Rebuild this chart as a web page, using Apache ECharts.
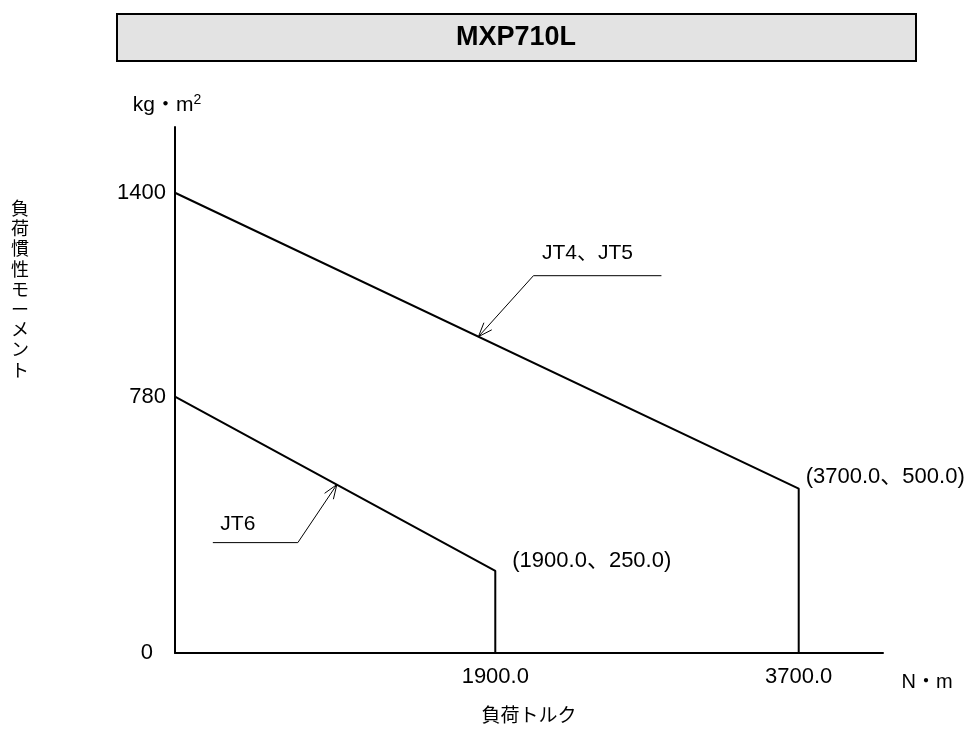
<!DOCTYPE html>
<html>
<head>
<meta charset="utf-8">
<script src="https://cdn.jsdelivr.net/npm/echarts@6/dist/echarts.min.js"></script>
<style>
  html, body { margin: 0; padding: 0; background: #fff; }
  #main { width: 973px; height: 729px; }
</style>
</head>
<body>
<div id="main"></div>
<script>
// MXP710L allowable load inertia vs. load torque
const chartTitle = 'MXP710L';
const seriesNames = ['JT4、JT5', 'JT6'];
const jt45Torque = [0, 3700, 3700];
const jt45Inertia = [1400, 500, 0];
const jt6Torque = [0, 1900, 1900];
const jt6Inertia = [780, 250, 0];
const yTickValues = [0, 780, 1400];
const xTickValues = [1900, 3700];
const xAxisTitle = '負荷トルク';
const yAxisTitle = '負荷慣性モーメント';
const xUnit = 'N・m';
const yUnit = 'kg・m';

const FONT = "'Liberation Sans', Arial, 'Noto Sans CJK JP', sans-serif";
const CJK = "'Noto Sans CJK JP', sans-serif";

function toPoints(xs, ys) {
  return xs.map((x, i) => [x, ys[i]]);
}
function fmtPair(p) {
  return '(' + p[0].toFixed(1) + '、' + p[1].toFixed(1) + ')';
}
// corner point (index 1) carries the value label, placed up and to the right
function buildData(xs, ys, labelPos) {
  return toPoints(xs, ys).map((p, i) => i === 1 ? {
    value: p,
    label: {
      show: true, position: labelPos, align: 'left', verticalAlign: 'middle',
      formatter: () => fmtPair(p),
      color: '#000', fontSize: 22, fontFamily: FONT
    }
  } : { value: p });
}
// y on a polyline at a given x (first segment containing x)
function yOnLine(xs, ys, x) {
  for (let i = 0; i < xs.length - 1; i++) {
    const x0 = xs[i], x1 = xs[i + 1];
    if (x1 !== x0 && x >= Math.min(x0, x1) && x <= Math.max(x0, x1)) {
      return ys[i] + (ys[i + 1] - ys[i]) * (x - x0) / (x1 - x0);
    }
  }
  return ys[0];
}

const chart = echarts.init(document.getElementById('main'), null, { renderer: 'canvas' });

const lineStyle = { color: '#000', width: 2 };
const lineSeries = {
  type: 'line', symbol: 'circle', symbolSize: 0, showSymbol: true, showAllSymbol: true,
  silent: true, itemStyle: { color: '#000' }, lineStyle: lineStyle,
  labelLayout: { hideOverlap: false }
};

chart.setOption({
  animation: false,
  backgroundColor: '#fff',
  grid: { left: 175, right: 90, top: 127, bottom: 76 },
  xAxis: {
    type: 'value', min: 0, max: 4200,
    axisLine: { show: true, onZero: false, lineStyle: { color: '#000', width: 2 } },
    axisTick: { show: false },
    splitLine: { show: false },
    axisLabel: {
      customValues: xTickValues,
      formatter: v => Number(v).toFixed(1),
      color: '#000', fontSize: 22, fontFamily: FONT, margin: 13
    },
    name: xAxisTitle, nameLocation: 'middle', nameGap: 52,
    nameTextStyle: { color: '#000', fontSize: 19, fontFamily: CJK }
  },
  yAxis: {
    type: 'value', min: 0, max: 1600,
    axisLine: { show: true, onZero: false, lineStyle: { color: '#000', width: 2 } },
    axisTick: { show: false },
    splitLine: { show: false },
    axisLabel: {
      customValues: yTickValues,
      formatter: v => v === 0 ? '{z|0}' : String(v),
      color: '#000', fontSize: 22, fontFamily: FONT, margin: 9,
      rich: { z: { fontSize: 22, fontFamily: FONT, color: '#000', padding: [0, 13, 0, 0] } }
    },
    name: '{u|' + yUnit + '}{s|2}', nameLocation: 'end', nameGap: 10,
    nameTextStyle: {
      padding: [0, 16, 0, 0],
      rich: {
        u: { fontSize: 21, fontFamily: FONT, color: '#000', lineHeight: 24 },
        s: { fontSize: 14, fontFamily: FONT, color: '#000', verticalAlign: 'top', lineHeight: 24 }
      }
    }
  },
  series: [
    Object.assign({}, lineSeries, {
      name: seriesNames[0],
      data: buildData(jt45Torque, jt45Inertia, [7, -12])
    }),
    Object.assign({}, lineSeries, {
      name: seriesNames[1],
      data: buildData(jt6Torque, jt6Inertia, [17, -10])
    })
  ]
});

// leader-line callouts naming each curve
const callouts = [
  { text: seriesNames[0], xs: jt45Torque, ys: jt45Inertia, atX: 1800,
    elbow: [55, -61], tail: 128, textAt: [54, -22] },
  { text: seriesNames[1], xs: jt6Torque, ys: jt6Inertia, atX: 960,
    elbow: [-39, 58], tail: -85, textAt: [-60, -18] }
];

const graphics = [
  {
    type: 'rect', shape: { x: 117, y: 14, width: 799, height: 47 },
    style: { fill: '#e3e3e3', stroke: '#000', lineWidth: 2 }
  },
  {
    type: 'text', x: 516, y: 38,
    style: { text: chartTitle, fill: '#000', font: 'bold 27px ' + FONT, align: 'center', verticalAlign: 'middle' }
  },
  {
    type: 'text', x: 20, y: 289,
    style: { text: yAxisTitle.split('').join('\n'), fill: '#000', font: '18px ' + CJK,
      lineHeight: 20.2, align: 'center', verticalAlign: 'middle' }
  },
  {
    type: 'text', x: 927, y: 682,
    style: { text: xUnit, fill: '#000', font: '20px ' + FONT, align: 'center', verticalAlign: 'middle' }
  }
];

callouts.forEach(c => {
  const tip = chart.convertToPixel({ gridIndex: 0 }, [c.atX, yOnLine(c.xs, c.ys, c.atX)]);
  const elbow = [tip[0] + c.elbow[0], tip[1] + c.elbow[1]];
  const end = [elbow[0] + c.tail, elbow[1]];
  const ang = Math.atan2(elbow[1] - tip[1], elbow[0] - tip[0]);
  const len = 15, spread = 0.36;
  const a1 = [tip[0] + len * Math.cos(ang + spread), tip[1] + len * Math.sin(ang + spread)];
  const a2 = [tip[0] + len * Math.cos(ang - spread), tip[1] + len * Math.sin(ang - spread)];
  graphics.push(
    { type: 'polyline', shape: { points: [end, elbow, tip] }, style: { stroke: '#000', lineWidth: 1, fill: null } },
    { type: 'polyline', shape: { points: [a1, tip, a2] }, style: { stroke: '#000', lineWidth: 1, fill: null } },
    { type: 'text', x: elbow[0] + c.textAt[0], y: elbow[1] + c.textAt[1],
      style: { text: c.text, fill: '#000', font: '21px ' + FONT, align: 'center', verticalAlign: 'middle' } }
  );
});

chart.setOption({ graphic: graphics });
</script>
</body>
</html>
